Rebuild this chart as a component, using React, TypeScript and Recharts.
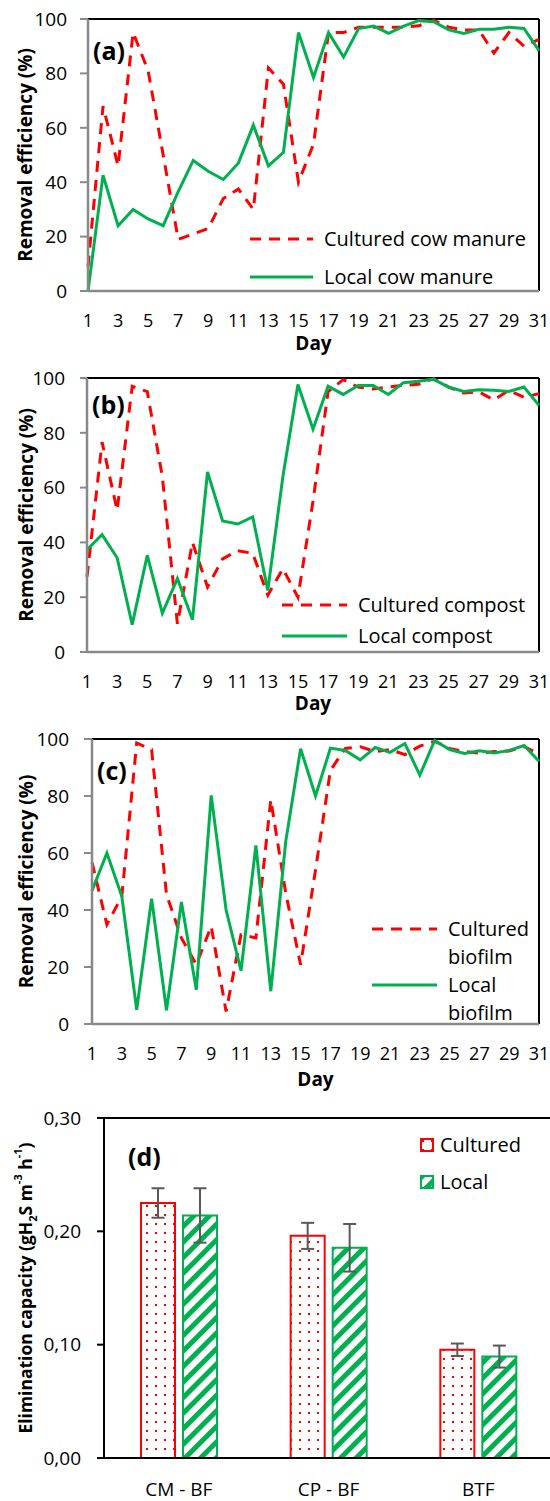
import React from "react";
import {
  LineChart,
  Line,
  BarChart,
  Bar,
  XAxis,
  YAxis,
  CartesianGrid,
  Legend,
  Label,
  ErrorBar,
} from "recharts";

const DAYS = [
  1, 2, 3, 4, 5, 6, 7, 8, 9, 10, 11, 12, 13, 14, 15, 16, 17, 18, 19, 20, 21,
  22, 23, 24, 25, 26, 27, 28, 29, 30, 31,
];

const CULTURED_COW = [
  9, 68, 46, 95, 81, 50, 19, 21, 23, 34, 37.5, 30, 82, 76, 40, 54, 95, 95, 97,
  97, 97, 97, 97.5, 99.5, 97, 96, 96, 87.5, 95, 90, 92.5,
];
const LOCAL_COW = [
  0, 42.6, 24, 30, 26.5, 24, 36.5, 48, 44, 41, 47, 61, 46, 51, 95, 78.5, 95, 86,
  96.5, 97.4, 94.7, 97.4, 99.4, 99, 96, 94.7, 96.2, 96.2, 97, 96.5, 88.4,
];
const CULTURED_COMPOST = [
  27.4, 76.6, 51.7, 97, 95, 64, 10.3, 40, 23.7, 34, 37, 36, 20.7, 30.4, 20, 55,
  95, 99.4, 96.7, 96, 96.7, 97.3, 97.7, 99.8, 96.7, 94.5, 95, 92, 95.5, 93,
  94.3,
];
const LOCAL_COMPOST = [
  37.3, 42.8, 34.4, 10, 35.3, 14.2, 26.8, 11.8, 65.7, 47.8, 46.7, 49.3, 22.5,
  64, 97.6, 81.3, 97, 94, 97.3, 97.3, 94, 98.3, 98.8, 99.5, 96.7, 95.1, 95.7,
  95.5, 95.1, 96.7, 90,
];
const CULTURED_BIOFILM = [
  56.7, 34.9, 44.8, 98.6, 96.3, 45.4, 30.2, 20.8, 34.3, 4.4, 31.3, 30.2, 78.7,
  46, 20.8, 54, 89, 96.7, 97.3, 95.6, 96.3, 94.5, 97.5, 99.2, 96.7, 95.6, 95,
  95.6, 95.8, 97.3, 94.7,
];
const LOCAL_BIOFILM = [
  46.8, 60, 44.8, 5, 44, 4.8, 42.8, 12, 80.2, 40, 18.7, 62.7, 11.5, 64, 96.6,
  80, 96.8, 96, 92.7, 97, 95.3, 98.4, 87.3, 99.5, 96.3, 94.9, 95.9, 95.1, 96,
  97.7, 92.2,
];

const REACTORS = ["CM - BF", "CP - BF", "BTF"];
const EC_CULTURED = [0.225, 0.196, 0.0955];
const EC_CULTURED_ERR = [0.013, 0.0115, 0.0055];
const EC_LOCAL = [0.214, 0.1855, 0.0895];
const EC_LOCAL_ERR = [0.024, 0.021, 0.0097];

const RE_TICKS = [0, 20, 40, 60, 80, 100];
const EC_TICKS = [0, 0.1, 0.2, 0.3];

const RED = "#FF0000";
const GREEN = "#00B050";
const AXIS_GRAY = "#898989";
const FONT = 19;
const DAY_FONT = 18;
const LEGEND_FONT = 20;

const toRows = (cultured: number[], local: number[]) =>
  DAYS.map((day, i) => ({ day, cultured: cultured[i], local: local[i] }));

const ecRows = REACTORS.map((name, i) => ({
  name,
  cultured: EC_CULTURED[i],
  culturedErr: EC_CULTURED_ERR[i],
  local: EC_LOCAL[i],
  localErr: EC_LOCAL_ERR[i],
}));

// plot frame: top edge, and right edge when asked
const topEdge = ({ offset }: any) => [offset.top];
const rightEdge = ({ offset }: any) => [offset.left + offset.width];

// rotated axis title, centred on the plot height
const yTitle =
  (dx: number, size: number, children: React.ReactNode) => (props: any) => {
    const vb = props.viewBox || {};
    const cx = (vb.x ?? 0) + dx;
    const cy = (vb.y ?? 0) + (vb.height ?? 0) / 2;
    return (
      <text
        x={cx}
        y={cy}
        transform={`rotate(-90 ${cx} ${cy})`}
        textAnchor="middle"
        dominantBaseline="central"
        fontWeight="bold"
        fontSize={size}
        fill="#000"
      >
        {children}
      </text>
    );
  };

const lineLegend =
  (sampleW: number, textGap: number, itemH: number, textWidth?: number) =>
  (props: any) => {
    const items = props.payload || [];
    return (
      <div>
        {items.map((it: any) => {
          const key = it.dataKey ?? it.payload?.dataKey;
          return (
            <div
              key={it.value}
              style={{ display: "flex", alignItems: "flex-start", minHeight: itemH }}
            >
              <svg width={sampleW} height={28} style={{ flex: "none" }}>
                <line
                  x1={0}
                  x2={sampleW}
                  y1={14}
                  y2={14}
                  stroke={it.color}
                  strokeWidth={3}
                  strokeDasharray={key === "cultured" ? "11 8" : undefined}
                />
              </svg>
              <span
                style={{
                  marginLeft: textGap,
                  fontSize: LEGEND_FONT,
                  lineHeight: "28px",
                  color: "#000",
                  width: textWidth,
                  whiteSpace: textWidth ? "normal" : "nowrap",
                }}
              >
                {it.value}
              </span>
            </div>
          );
        })}
      </div>
    );
  };

interface PanelProps {
  top: number;
  height: number;
  axisW: number;
  marginTop: number;
  marginBottom: number;
  xAxisH: number;
  tickSize: number;
  tickGap: number;
  xTickGap: number;
  dayOffset: number;
  titleX: number;
  cultured: number[];
  local: number[];
  names: [string, string];
  letter: string;
  letterTop: number;
  legendLeft: number;
  legendTop: number;
  legendSample: number;
  legendItemH: number;
  legendTextW?: number;
}

function RemovalPanel(p: PanelProps) {
  return (
    <div style={{ position: "absolute", left: 0, top: p.top }}>
      <LineChart
        width={550}
        height={p.height}
        data={toRows(p.cultured, p.local)}
        margin={{ top: p.marginTop, right: 11, bottom: p.marginBottom, left: 0 }}
      >
        <CartesianGrid
          stroke="#000"
          strokeWidth={2}
          horizontalCoordinatesGenerator={topEdge}
          verticalCoordinatesGenerator={rightEdge}
        />
        <XAxis
          dataKey="day"
          interval={1}
          height={p.xAxisH}
          tickLine={false}
          tickSize={6}
          tickMargin={p.xTickGap}
          tick={{ fill: "#000", fontSize: DAY_FONT }}
          axisLine={{ stroke: AXIS_GRAY, strokeWidth: 2.5 }}
        >
          <Label
            value="Day"
            position="insideBottom"
            offset={p.dayOffset}
            fontWeight="bold"
            fontSize={FONT}
            fill="#000"
          />
        </XAxis>
        <YAxis
          type="number"
          domain={[0, 100]}
          ticks={RE_TICKS}
          interval={0}
          width={p.axisW}
          tickSize={p.tickSize}
          tickMargin={p.tickGap}
          tick={{ fill: "#000", fontSize: FONT }}
          tickLine={{ stroke: AXIS_GRAY, strokeWidth: 2 }}
          axisLine={{ stroke: AXIS_GRAY, strokeWidth: 2.5 }}
        >
          <Label content={yTitle(p.titleX, FONT, "Removal efficiency (%)")} />
        </YAxis>
        <Legend
          layout="vertical"
          align="center"
          verticalAlign="middle"
          wrapperStyle={{ left: p.legendLeft, top: p.legendTop, width: "auto" }}
          content={lineLegend(p.legendSample, 11, p.legendItemH, p.legendTextW)}
        />
        <Line
          type="linear"
          dataKey="cultured"
          name={p.names[0]}
          stroke={RED}
          strokeWidth={3}
          strokeDasharray="11 8"
          dot={false}
          isAnimationActive={false}
        />
        <Line
          type="linear"
          dataKey="local"
          name={p.names[1]}
          stroke={GREEN}
          strokeWidth={3}
          dot={false}
          isAnimationActive={false}
        />
      </LineChart>
      <div
        style={{
          position: "absolute",
          left: p.axisW + 5,
          top: p.letterTop,
          fontSize: 25,
          fontWeight: "bold",
          lineHeight: "26px",
        }}
      >
        {p.letter}
      </div>
    </div>
  );
}

const barLegend = (props: any) => {
  const items = props.payload || [];
  return (
    <div>
      {items.map((it: any) => {
        const key = it.dataKey ?? it.payload?.dataKey;
        const cult = key === "cultured";
        return (
          <div key={it.value} style={{ display: "flex", alignItems: "center", height: 37 }}>
            <svg width={14} height={14} style={{ flex: "none" }}>
              <rect
                x={1}
                y={1}
                width={12}
                height={12}
                fill={cult ? "url(#dotsRed)" : "url(#stripesGreen)"}
                stroke={cult ? RED : GREEN}
                strokeWidth={2}
              />
            </svg>
            <span style={{ marginLeft: 6, fontSize: LEGEND_FONT, color: "#000" }}>
              {it.value}
            </span>
          </div>
        );
      })}
    </div>
  );
};

function CapacityPanel() {
  return (
    <div style={{ position: "absolute", left: 0, top: 1095 }}>
      <BarChart
        width={556}
        height={406}
        data={ecRows}
        barSize={34}
        barGap={8}
        margin={{ top: 23, right: 3, bottom: 0, left: 0 }}
      >
        <defs>
          <pattern id="dotsRed" width="9" height="9" patternUnits="userSpaceOnUse">
            <rect width="9" height="9" fill="#fff" />
            <rect x="2" y="2" width="2" height="2" fill={RED} />
          </pattern>
          <pattern
            id="stripesGreen"
            width="11"
            height="11"
            patternUnits="userSpaceOnUse"
            patternTransform="rotate(45)"
          >
            <rect width="11" height="11" fill="#fff" />
            <rect width="5" height="11" fill={GREEN} />
          </pattern>
        </defs>
        <CartesianGrid
          stroke="#000"
          strokeWidth={2}
          vertical={false}
          horizontalCoordinatesGenerator={topEdge}
        />
        <XAxis
          dataKey="name"
          height={43}
          tickLine={false}
          tickSize={6}
          tickMargin={19}
          tick={{ fill: "#000", fontSize: FONT }}
          axisLine={{ stroke: "#000", strokeWidth: 2 }}
        />
        <YAxis
          type="number"
          domain={[0, 0.3]}
          ticks={EC_TICKS}
          interval={0}
          width={104}
          tickSize={7}
          tickMargin={16}
          tickFormatter={(v: number) => v.toFixed(2).replace(".", ",")}
          tick={{ fill: "#000", fontSize: FONT }}
          tickLine={{ stroke: "#000", strokeWidth: 2 }}
          axisLine={{ stroke: "#000", strokeWidth: 2 }}
        >
          <Label
            content={yTitle(
              25,
              17.5,
              <>
                Elimination capacity (gH
                <tspan baselineShift="sub" fontSize={11}>2</tspan>S m
                <tspan baselineShift="super" fontSize={11}>-3</tspan> h
                <tspan baselineShift="super" fontSize={11}>-1</tspan>)
              </>
            )}
          />
        </YAxis>
        <Legend
          layout="vertical"
          align="center"
          verticalAlign="middle"
          wrapperStyle={{ left: 420, top: 31, width: "auto" }}
          content={barLegend}
        />
        <Bar
          dataKey="cultured"
          name="Cultured"
          fill="url(#dotsRed)"
          stroke={RED}
          strokeWidth={2}
          isAnimationActive={false}
        >
          <ErrorBar
            dataKey="culturedErr"
            width={6.5}
            stroke="#595959"
            strokeWidth={2}
            isAnimationActive={false}
          />
        </Bar>
        <Bar
          dataKey="local"
          name="Local"
          fill="url(#stripesGreen)"
          stroke={GREEN}
          strokeWidth={2}
          isAnimationActive={false}
        >
          <ErrorBar
            dataKey="localErr"
            width={6.5}
            stroke="#595959"
            strokeWidth={2}
            isAnimationActive={false}
          />
        </Bar>
      </BarChart>
      <div
        style={{
          position: "absolute",
          left: 128,
          top: 48,
          fontSize: 25,
          fontWeight: "bold",
          lineHeight: "26px",
        }}
      >
        (d)
      </div>
    </div>
  );
}

export default function App() {
  return (
    <div
      style={{
        position: "absolute",
        left: 0,
        top: 0,
        width: 550,
        height: 1501,
        overflow: "hidden",
        background: "#fff",
        fontFamily: "'Open Sans', sans-serif",
        color: "#000",
      }}
    >
      <RemovalPanel
        top={0}
        height={360}
        axisW={88}
        marginTop={19}
        marginBottom={9}
        xAxisH={60}
        tickSize={8}
        tickGap={13}
        xTickGap={17}
        dayOffset={1}
        titleX={25}
        cultured={CULTURED_COW}
        local={LOCAL_COW}
        names={["Cultured cow manure", "Local cow manure"]}
        letter="(a)"
        letterTop={37}
        legendLeft={250}
        legendTop={225}
        legendSample={63}
        legendItemH={38}
      />
      <RemovalPanel
        top={360}
        height={360}
        axisW={87}
        marginTop={18}
        marginBottom={8}
        xAxisH={60}
        tickSize={7}
        tickGap={15}
        xTickGap={17}
        dayOffset={2}
        titleX={26}
        cultured={CULTURED_COMPOST}
        local={LOCAL_COMPOST}
        names={["Cultured compost", "Local compost"]}
        letter="(b)"
        letterTop={31}
        legendLeft={282}
        legendTop={231}
        legendSample={65}
        legendItemH={31}
      />
      <RemovalPanel
        top={720}
        height={375}
        axisW={92}
        marginTop={19}
        marginBottom={6}
        xAxisH={65}
        tickSize={8}
        tickGap={15}
        xTickGap={17}
        dayOffset={3}
        titleX={26}
        cultured={CULTURED_BIOFILM}
        local={LOCAL_BIOFILM}
        names={["Cultured biofilm", "Local biofilm"]}
        letter="(c)"
        letterTop={37}
        legendLeft={372}
        legendTop={195}
        legendSample={65}
        legendItemH={55}
        legendTextW={90}
      />
      <CapacityPanel />
    </div>
  );
}
